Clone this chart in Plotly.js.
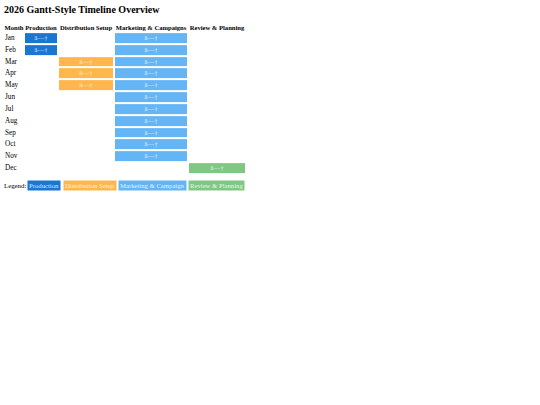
<!DOCTYPE html>
<html>
<head>
<meta charset="utf-8">
<script src="https://cdn.plot.ly/plotly-3.0.1.min.js"></script>
<style>html,body{margin:0;padding:0;background:#fff;}#chart{width:540px;height:405px;}</style>
</head>
<body>
<div id="chart"></div>
<script>
// ---- data ----
const months = ['Jan','Feb','Mar','Apr','May','Jun','Jul','Aug','Sep','Oct','Nov','Dec'];
const headers = ['Month','Production','Distribution Setup','Marketing & Campaigns','Review & Planning'];
const phases = ['Production','Distribution Setup','Marketing & Campaigns','Review & Planning'];
const legendLabels = ['Production','Distribution Setup','Marketing & Campaign','Review & Planning'];
// 1 = phase active in that month
const production   = [1,1,0,0,0,0,0,0,0,0,0,0];
const distribution = [0,0,1,1,1,0,0,0,0,0,0,0];
const marketing    = [1,1,1,1,1,1,1,1,1,1,1,0];
const review       = [0,0,0,0,0,0,0,0,0,0,0,1];
const cellMark = 'â—†';
const titleText = '2026 Gantt-Style Timeline Overview';

// ---- styles / layout ----
const colors = ['#1976D2','#FFB74D','#64B5F6','#81C784'];
const FONT = 'Liberation Serif, Times New Roman, serif';
const colEdges = [0, 20, 54, 110, 184, 242]; // month col + 4 phase cols (axis units = px)
const phaseEdges = colEdges.slice(1);
const colCenters = colEdges.slice(0, -1).map((e, i) => (e + colEdges[i + 1]) / 2);

const series = [production, distribution, marketing, review];
const z = months.map((m, r) => series.map((s, c) => s[r] ? c + 1 : null));
const txt = months.map((m, r) => series.map((s) => s[r] ? cellMark : ''));

const colorscale = [];
colors.forEach((c, i) => { colorscale.push([i / 4, c]); colorscale.push([(i + 1) / 4, c]); });

const trace = {
  type: 'heatmap',
  x: phaseEdges,
  y: months,
  z: z,
  text: txt,
  texttemplate: '%{text}',
  textfont: {family: FONT, size: 7, color: 'rgba(255,255,255,0.8)'},
  colorscale: colorscale,
  zmin: 0.5, zmax: 4.5,
  showscale: false,
  xgap: 2, ygap: 2,
  hoverinfo: 'skip'
};

const L = 4, W = 242, T = 32, H = 142;
const px2x = p => (p - L) / W;
const py2y = p => (T + H - p) / H;

// month labels in the first (Month) column, left-aligned
const annotations = months.map(m => ({
  text: m, xref: 'x', yref: 'y', x: colEdges[0], y: m, xshift: -1.5,
  xanchor: 'left', yanchor: 'middle', showarrow: false,
  font: {family: FONT, size: 7.2, color: '#000'}
}));

const legendX = [27, 63, 118, 188];
annotations.push({
  text: 'Legend:', xref: 'paper', yref: 'paper', x: px2x(2), y: py2y(185.5),
  xanchor: 'left', yanchor: 'middle', showarrow: false,
  font: {family: FONT, size: 6.8, color: '#000'}
});
legendLabels.forEach((lab, i) => {
  annotations.push({
    text: lab, xref: 'paper', yref: 'paper', x: px2x(legendX[i]), y: py2y(185.5),
    xanchor: 'left', yanchor: 'middle', showarrow: false,
    bgcolor: colors[i], borderpad: 1,
    font: {family: FONT, size: 6.7, color: 'rgba(255,255,255,0.85)'}
  });
});

const layout = {
  width: 540, height: 405,
  margin: {l: L, r: 540 - L - W, t: T, b: 405 - T - H, pad: 0},
  paper_bgcolor: '#fff', plot_bgcolor: '#fff',
  font: {family: FONT, color: '#000'},
  title: {
    text: titleText, xref: 'container', yref: 'container',
    x: 4 / 540, xanchor: 'left', y: 1 - 9 / 405, yanchor: 'middle',
    font: {family: FONT, size: 10, weight: 'bold', color: '#000'}
  },
  xaxis: {
    range: [colEdges[0], colEdges[colEdges.length - 1]],
    side: 'top', tickvals: colCenters, ticktext: headers, tickangle: 0,
    tickfont: {family: FONT, size: 6.6, weight: 'bold', color: '#000'},
    showgrid: false, zeroline: false, showline: false, ticks: '',
    fixedrange: true
  },
  yaxis: {
    type: 'category', categoryarray: months, autorange: 'reversed',
    showticklabels: false,
    showgrid: false, zeroline: false, showline: false, ticks: '',
    fixedrange: true
  },
  annotations: annotations,
  showlegend: false
};

Plotly.newPlot('chart', [trace], layout, {displayModeBar: false, staticPlot: true});
</script>
</body>
</html>
